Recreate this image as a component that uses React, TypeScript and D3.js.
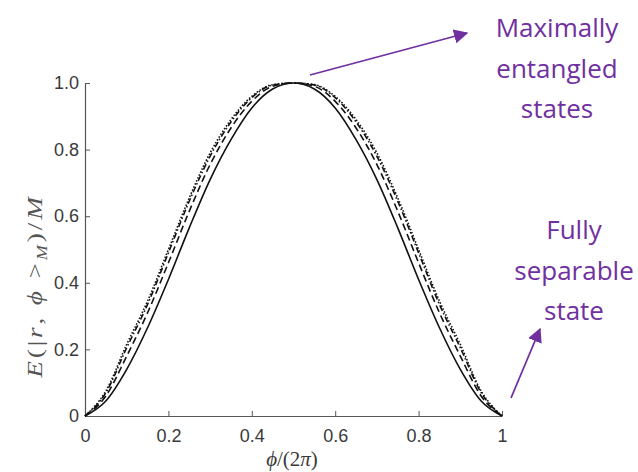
import * as d3 from "d3";
import React, { useEffect, useRef } from "react";

// phi/(2pi) sample points and the four curves
const phi = [0, 0.05, 0.1, 0.15, 0.2, 0.25, 0.3, 0.35, 0.4, 0.45, 0.5, 0.55, 0.6, 0.65, 0.7, 0.75, 0.8, 0.85, 0.9, 0.95, 1];
const solidVals = [0, 0.045, 0.14, 0.265, 0.41, 0.565, 0.71, 0.83, 0.925, 0.982, 1, 0.982, 0.925, 0.83, 0.71, 0.565, 0.41, 0.265, 0.14, 0.045, 0];
const dashedVals = [0, 0.06, 0.18, 0.31, 0.46, 0.615, 0.755, 0.865, 0.945, 0.99, 1, 0.99, 0.945, 0.865, 0.755, 0.615, 0.46, 0.31, 0.18, 0.06, 0];
const dashDotVals = [0, 0.07, 0.205, 0.335, 0.49, 0.645, 0.78, 0.883, 0.956, 0.994, 1, 0.994, 0.956, 0.883, 0.78, 0.645, 0.49, 0.335, 0.205, 0.07, 0];
const dottedVals = [0, 0.075, 0.215, 0.345, 0.5, 0.655, 0.79, 0.89, 0.96, 0.995, 1, 0.995, 0.96, 0.89, 0.79, 0.655, 0.5, 0.345, 0.215, 0.075, 0];

const xTicks = [0, 0.2, 0.4, 0.6, 0.8, 1];
const xTickLabels = ["0", "0.2", "0.4", "0.6", "0.8", "1"];
const yTicks = [0, 0.2, 0.4, 0.6, 0.8, 1];
const yTickLabels = ["0", "0.2", "0.4", "0.6", "0.8", "1.0"];

const topNote = ["Maximally", "entangled", "states"];
const bottomNote = ["Fully", "separable", "state"];

const series = [
  { values: solidVals, dash: null },
  { values: dashedVals, dash: "7,4" },
  { values: dashDotVals, dash: "6,2.5,1.5,2.5" },
  { values: dottedVals, dash: "1.5,1.8" },
];

export default function App() {
  const ref = useRef<SVGSVGElement>(null);

  useEffect(() => {
    const width = 638;
    const height = 472;
    const margin = { top: 83, right: 136, bottom: 56, left: 85 };

    const svg = d3.select(ref.current);
    svg.selectAll("*").remove();

    const x = d3.scaleLinear([0, 1], [margin.left, width - margin.right]);
    const y = d3.scaleLinear([0, 1], [height - margin.bottom, margin.top]);
    const axisColor = "#555";
    const textColor = "#3a3a3a";

    // arrow head for the annotations
    svg
      .append("defs")
      .append("marker")
      .attr("id", "head")
      .attr("viewBox", "0 0 10 10")
      .attr("refX", 9)
      .attr("refY", 5)
      .attr("markerWidth", 8)
      .attr("markerHeight", 8)
      .attr("markerUnits", "strokeWidth")
      .attr("orient", "auto")
      .append("path")
      .attr("d", "M0,0 L10,5 L0,10 Z")
      .attr("fill", "#7030a0");

    // x axis
    svg
      .append("g")
      .attr("transform", `translate(0,${y(0)})`)
      .call(
        d3
          .axisBottom(x)
          .tickValues(xTicks)
          .tickSize(-5)
          .tickSizeOuter(0)
          .tickFormat((_, i) => xTickLabels[i])
      )
      .call((g) => g.select(".domain").attr("stroke", axisColor).attr("stroke-width", 1.2))
      .call((g) => g.selectAll(".tick line").attr("stroke", axisColor))
      .call((g) =>
        g
          .selectAll(".tick text")
          .attr("y", 26)
          .attr("dy", 0)
          .attr("fill", textColor)
          .attr("font-size", 18)
          .attr("font-family", "Liberation Sans, Arial, sans-serif")
      );

    // y axis
    svg
      .append("g")
      .attr("transform", `translate(${x(0)},0)`)
      .call(
        d3
          .axisLeft(y)
          .tickValues(yTicks)
          .tickSize(-5)
          .tickSizeOuter(0)
          .tickFormat((_, i) => yTickLabels[i])
      )
      .call((g) => g.select(".domain").attr("stroke", axisColor).attr("stroke-width", 1.2))
      .call((g) => g.selectAll(".tick line").attr("stroke", axisColor))
      .call((g) =>
        g
          .selectAll(".tick text")
          .attr("x", -6)
          .attr("fill", textColor)
          .attr("font-size", 18)
          .attr("font-family", "Liberation Sans, Arial, sans-serif")
      );

    // curves
    const line = d3
      .line<number>()
      .x((_, i) => x(phi[i]))
      .y((d) => y(d))
      .curve(d3.curveMonotoneX);

    svg
      .append("g")
      .selectAll("path")
      .data(series)
      .join("path")
      .attr("d", (s) => line(s.values))
      .attr("fill", "none")
      .attr("stroke", "#111")
      .attr("stroke-width", 1.6)
      .attr("stroke-dasharray", (s) => s.dash);

    // axis titles
    svg
      .append("text")
      .attr("x", 292)
      .attr("y", 466)
      .attr("text-anchor", "middle")
      .attr("font-family", "Liberation Serif, Times New Roman, serif")
      .attr("font-size", 21)
      .attr("fill", textColor)
      .call((t) => {
        t.append("tspan").attr("font-style", "italic").text("ϕ");
        t.append("tspan").text("/(2");
        t.append("tspan").attr("font-style", "italic").text("π");
        t.append("tspan").text(")");
      });

    // the source picture is a bit stretched along this label
    const yl = svg
      .append("text")
      .attr("transform", "translate(42,286) rotate(-90) scale(1.3,1)")
      .attr("text-anchor", "middle")
      .attr("font-family", "Liberation Serif, Times New Roman, serif")
      .attr("font-size", 21)
      .attr("letter-spacing", 2.2)
      .attr("fill", "#555");
    yl.append("tspan").attr("font-style", "italic").text("E");
    yl.append("tspan").text("(|");
    yl.append("tspan").attr("font-style", "italic").text("r");
    yl.append("tspan").text(", ");
    yl.append("tspan").attr("font-style", "italic").text("ϕ");
    yl.append("tspan").text(" >");
    yl.append("tspan").attr("font-style", "italic").attr("font-size", 14).attr("dy", 5).text("M");
    yl.append("tspan").attr("dy", -5).text(")/");
    yl.append("tspan").attr("font-style", "italic").text("M");

    // annotations
    const purple = "#7030a0";
    svg
      .append("line")
      .attr("x1", 310)
      .attr("y1", 75)
      .attr("x2", 467)
      .attr("y2", 33)
      .attr("stroke", purple)
      .attr("stroke-width", 1.8)
      .attr("marker-end", "url(#head)");
    svg
      .append("line")
      .attr("x1", 511)
      .attr("y1", 398)
      .attr("x2", 540)
      .attr("y2", 329)
      .attr("stroke", purple)
      .attr("stroke-width", 1.8)
      .attr("marker-end", "url(#head)");

    const note = (lines: string[], cx: number, y0: number) =>
      svg
        .append("g")
        .selectAll("text")
        .data(lines)
        .join("text")
        .attr("x", cx)
        .attr("y", (_, i) => y0 + i * 40.5)
        .attr("text-anchor", "middle")
        .attr("font-family", "Open Sans, Lato, sans-serif")
        .attr("font-size", 26)
        .attr("fill", purple)
        .text((d) => d);
    note(topNote, 557, 37);
    note(bottomNote, 574, 239);
  }, []);

  return (
    <svg
      ref={ref}
      width={638}
      height={472}
      viewBox="0 0 638 472"
      style={{ position: "absolute", left: 0, top: 0, background: "#fff" }}
    />
  );
}
